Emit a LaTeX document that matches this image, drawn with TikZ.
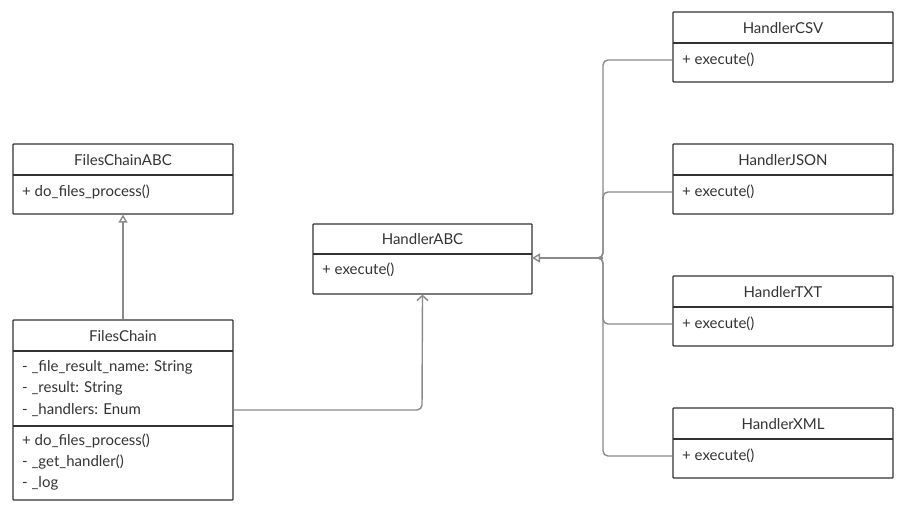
\documentclass[tikz,border=0pt]{standalone}
\usepackage{fontspec}
\setmainfont{Lato}
\usetikzlibrary{arrows.meta}
\definecolor{boxline}{HTML}{333333}
\definecolor{conn}{HTML}{8A8A8A}
\definecolor{txt}{HTML}{333333}
\begin{document}
\begin{tikzpicture}[x=1pt,y=-1pt,
  classbox/.style={draw=boxline, line width=1.3pt, rectangle, minimum width=220pt, inner sep=0pt, rounded corners=0.8pt},
  divider/.style={draw=boxline, line width=1.3pt},
  title/.style={text=txt, font=\fontsize{15}{17}\selectfont, inner sep=0pt},
  member/.style={text=txt, font=\fontsize{15}{17}\selectfont, inner sep=0pt, anchor=west},
  conline/.style={draw=conn, line width=1.4pt, rounded corners=5pt},
  inherit/.style={conline, -{Triangle[open, length=8pt, width=9pt, fill=white]}},
  assoc/.style={conline, -{Straight Barb[length=5pt, width=11pt]}}
]
\useasboundingbox (0,0) rectangle (903,510);

% FilesChainABC
\node[classbox, minimum height=70pt] (fcabc) at (123,179) {};
\draw[divider] (13,175) -- (233,175);
\node[title] (fcabct) at (123,160) {FilesChainABC};
\node[member] (fcabcm) at (22,192) {+ do\_files\_process()};

% FilesChain
\node[classbox, minimum height=180pt] (fc) at (123,410) {};
\draw[divider] (13,351) -- (233,351);
\draw[divider] (13,426) -- (233,426);
\node[title] (fct) at (123,336) {FilesChain};
\node[member] (fca1) at (22,367) {- \_file\_result\_name: String};
\node[member] (fca2) at (22,388) {- \_result: String};
\node[member] (fca3) at (22,410) {- \_handlers: Enum};
\node[member] (fcm1) at (22,441) {+ do\_files\_process()};
\node[member] (fcm2) at (22,462) {- \_get\_handler()};
\node[member] (fcm3) at (22,483) {- \_log};

% HandlerABC
\node[classbox, minimum width=219pt, minimum height=70pt] (habc) at (422.5,259) {};
\draw[divider] (313,254) -- (532,254);
\node[title] (habct) at (422.5,239) {HandlerABC};
\node[member] (habcm) at (322,270) {+ execute()};

% Handlers
\foreach \nm/\lab/\top in {csv/HandlerCSV/12, json/HandlerJSON/144, txt/HandlerTXT/276, xml/HandlerXML/408}{
  \node[classbox, minimum height=70pt] (\nm) at (783,\top+35) {};
  \draw[divider] (673,\top+31) -- (893,\top+31);
  \node[title] (\nm t) at (783,\top+16) {\lab};
  \node[member] (\nm m) at (682,\top+48) {+ execute()};
}

% connectors
\draw[inherit] (fc.north) -- (fcabc.south);
\draw[assoc] (fc.east |- fca3) -- (422,410) -- (habc.south);
\coordinate (j) at (603,258);
\coordinate (habcin) at (532,258);
\foreach \nm in {csv, json, txt, xml}{
  \draw[conline] (\nm.west |- \nm m) -- (j |- \nm m) -- (j) -- (habcin);
}
\draw[inherit] (j) -- (habcin);
\end{tikzpicture}
\end{document}
